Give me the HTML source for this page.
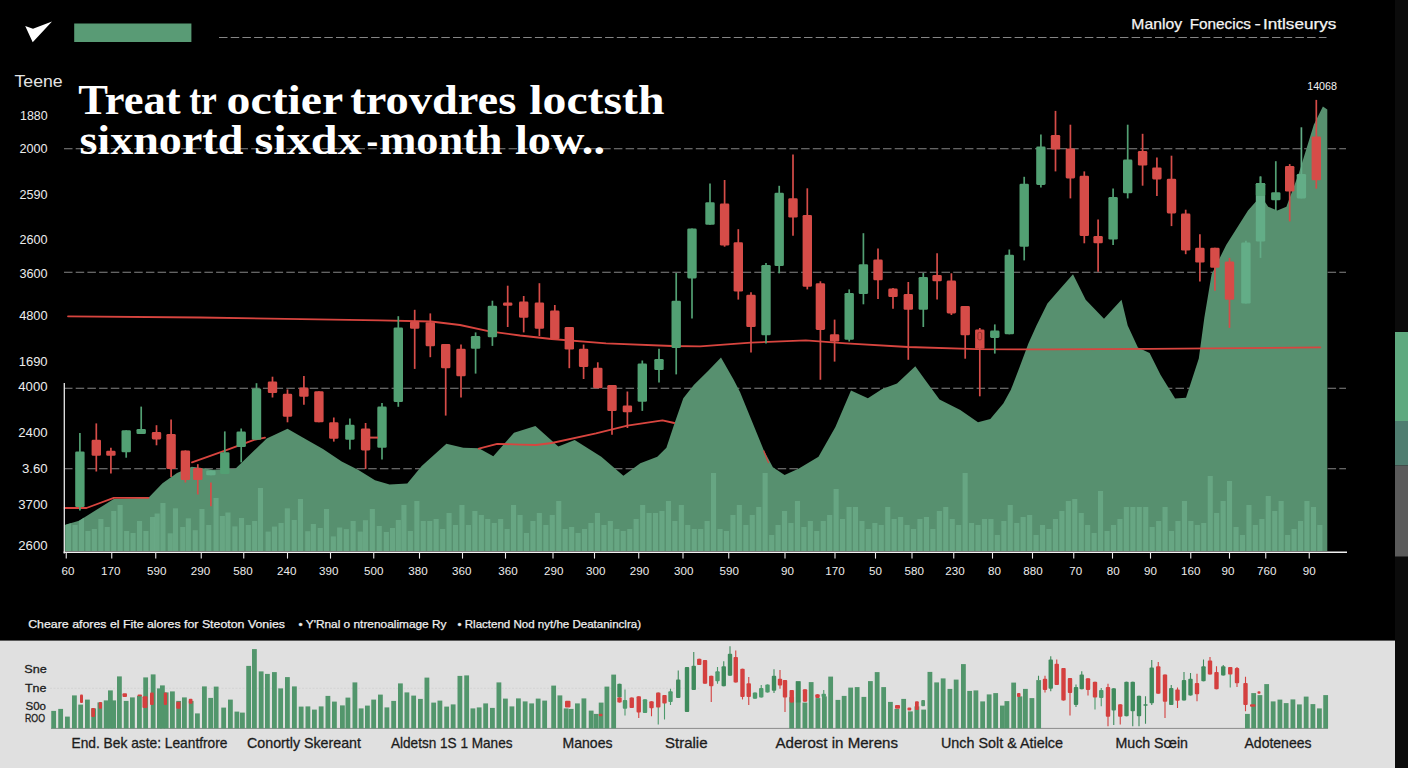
<!DOCTYPE html>
<html><head><meta charset="utf-8"><title>chart</title>
<style>
html,body{margin:0;padding:0;background:#000;}
body{width:1408px;height:768px;overflow:hidden;position:relative;font-family:"Liberation Sans",sans-serif;}
svg{position:absolute;left:0;top:0;display:block}
text{font-family:"Liberation Sans",sans-serif;}
.ser{font-family:"Liberation Serif",serif;font-weight:bold;}
</style></head><body>
<svg width="1408" height="768" viewBox="0 0 1408 768">
<rect width="1408" height="768" fill="#000"/>

<rect x="1395" y="0" width="13" height="768" fill="#0b0b0b"/>
<rect x="1395" y="332" width="13" height="89" fill="#5fa97f"/>
<rect x="1395" y="421" width="13" height="44.5" fill="#4f7d70"/>
<rect x="1395" y="465.5" width="13" height="91" fill="#5b5b5b"/>
<rect x="0" y="640.6" width="1395" height="127.4" fill="#e0e0e0"/>
<line x1="219" y1="37.5" x2="1326.5" y2="37.5" stroke="#858585" stroke-width="1.1" stroke-dasharray="8.5 3.2"/>
<line x1="64" y1="148.8" x2="1346" y2="148.8" stroke="#858585" stroke-width="1.1" stroke-dasharray="8.5 3.2"/>
<line x1="64" y1="272.3" x2="1346" y2="272.3" stroke="#858585" stroke-width="1.1" stroke-dasharray="8.5 3.2"/>
<line x1="64" y1="388.2" x2="1346" y2="388.2" stroke="#858585" stroke-width="1.1" stroke-dasharray="8.5 3.2"/>
<line x1="64" y1="468.8" x2="1346" y2="468.8" stroke="#858585" stroke-width="1.1" stroke-dasharray="8.5 3.2"/>
<polygon points="64.6,525.0 79.0,520.8 113.8,498.9 148.5,497.8 162.5,483.3 177.0,473.0 191.7,466.7 200.0,467.7 212.5,469.8 235.4,468.7 266.7,438.5 287.5,428.8 308.0,440.6 323.0,449.0 341.7,461.5 358.0,469.8 375.0,480.2 389.6,484.4 407.3,483.6 421.7,465.9 446.4,443.8 463.3,447.7 478.9,448.2 493.3,456.3 514.0,432.8 535.4,426.0 558.3,446.4 574.7,439.9 601.3,456.8 623.4,475.8 640.3,463.3 657.3,456.8 666.4,447.7 674.2,424.3 683.3,398.2 693.8,385.0 708.0,371.0 721.0,357.5 733.8,380.0 740.0,392.0 763.8,450.3 772.9,467.2 784.6,475.0 798.9,468.5 818.5,456.8 835.4,426.9 851.0,390.4 867.9,398.2 882.2,389.1 897.0,383.5 915.3,366.3 925.2,380.0 939.5,399.5 960.3,409.9 978.0,422.2 990.3,419.0 1003.3,403.4 1011.0,389.4 1020.0,366.0 1028.4,343.4 1036.5,325.5 1047.4,303.5 1060.0,289.0 1073.0,274.3 1085.7,299.8 1104.0,318.8 1121.5,299.8 1127.7,325.4 1137.9,347.4 1149.6,352.9 1160.5,374.8 1175.1,398.5 1186.0,397.8 1198.8,358.4 1204.3,318.0 1211.6,274.3 1226.2,245.0 1248.0,210.5 1260.9,195.9 1268.2,206.8 1277.3,210.5 1286.4,206.8 1299.2,172.2 1313.8,124.7 1322.9,106.5 1327.3,109.4 1327.3,551.0 64.6,551.0" fill="#57906f"/>
<clipPath id="ac"><polygon points="64.6,525.0 79.0,520.8 113.8,498.9 148.5,497.8 162.5,483.3 177.0,473.0 191.7,466.7 200.0,467.7 212.5,469.8 235.4,468.7 266.7,438.5 287.5,428.8 308.0,440.6 323.0,449.0 341.7,461.5 358.0,469.8 375.0,480.2 389.6,484.4 407.3,483.6 421.7,465.9 446.4,443.8 463.3,447.7 478.9,448.2 493.3,456.3 514.0,432.8 535.4,426.0 558.3,446.4 574.7,439.9 601.3,456.8 623.4,475.8 640.3,463.3 657.3,456.8 666.4,447.7 674.2,424.3 683.3,398.2 693.8,385.0 708.0,371.0 721.0,357.5 733.8,380.0 740.0,392.0 763.8,450.3 772.9,467.2 784.6,475.0 798.9,468.5 818.5,456.8 835.4,426.9 851.0,390.4 867.9,398.2 882.2,389.1 897.0,383.5 915.3,366.3 925.2,380.0 939.5,399.5 960.3,409.9 978.0,422.2 990.3,419.0 1003.3,403.4 1011.0,389.4 1020.0,366.0 1028.4,343.4 1036.5,325.5 1047.4,303.5 1060.0,289.0 1073.0,274.3 1085.7,299.8 1104.0,318.8 1121.5,299.8 1127.7,325.4 1137.9,347.4 1149.6,352.9 1160.5,374.8 1175.1,398.5 1186.0,397.8 1198.8,358.4 1204.3,318.0 1211.6,274.3 1226.2,245.0 1248.0,210.5 1260.9,195.9 1268.2,206.8 1277.3,210.5 1286.4,206.8 1299.2,172.2 1313.8,124.7 1322.9,106.5 1327.3,109.4 1327.3,551.0 64.6,551.0"/></clipPath><g clip-path="url(#ac)">
<rect x="66.0" y="513.0" width="5.1" height="38.0" fill="#6cae89" fill-opacity="0.75"/>
<rect x="72.5" y="525.0" width="5.1" height="26.0" fill="#6cae89" fill-opacity="0.75"/>
<rect x="78.9" y="507.0" width="5.1" height="44.0" fill="#6cae89" fill-opacity="0.75"/>
<rect x="85.4" y="531.0" width="5.1" height="20.0" fill="#6cae89" fill-opacity="0.75"/>
<rect x="91.8" y="529.0" width="5.1" height="22.0" fill="#6cae89" fill-opacity="0.75"/>
<rect x="98.3" y="519.0" width="5.1" height="32.0" fill="#6cae89" fill-opacity="0.75"/>
<rect x="104.7" y="527.0" width="5.1" height="24.0" fill="#6cae89" fill-opacity="0.75"/>
<rect x="111.2" y="511.0" width="5.1" height="40.0" fill="#6cae89" fill-opacity="0.75"/>
<rect x="117.6" y="505.0" width="5.1" height="46.0" fill="#6cae89" fill-opacity="0.75"/>
<rect x="124.1" y="531.0" width="5.1" height="20.0" fill="#6cae89" fill-opacity="0.75"/>
<rect x="130.5" y="533.0" width="5.1" height="18.0" fill="#6cae89" fill-opacity="0.75"/>
<rect x="137.0" y="521.0" width="5.1" height="30.0" fill="#6cae89" fill-opacity="0.75"/>
<rect x="143.4" y="531.0" width="5.1" height="20.0" fill="#6cae89" fill-opacity="0.75"/>
<rect x="401.4" y="505.0" width="5.1" height="46.0" fill="#6cae89" fill-opacity="0.75"/>
<rect x="407.8" y="531.0" width="5.1" height="20.0" fill="#6cae89" fill-opacity="0.75"/>
<rect x="414.3" y="501.0" width="5.1" height="50.0" fill="#6cae89" fill-opacity="0.75"/>
<rect x="420.7" y="521.0" width="5.1" height="30.0" fill="#6cae89" fill-opacity="0.75"/>
<rect x="427.2" y="521.0" width="5.1" height="30.0" fill="#6cae89" fill-opacity="0.75"/>
<rect x="433.6" y="519.0" width="5.1" height="32.0" fill="#6cae89" fill-opacity="0.75"/>
<rect x="440.1" y="529.0" width="5.1" height="22.0" fill="#6cae89" fill-opacity="0.75"/>
<rect x="446.5" y="513.0" width="5.1" height="38.0" fill="#6cae89" fill-opacity="0.75"/>
<rect x="453.0" y="525.0" width="5.1" height="26.0" fill="#6cae89" fill-opacity="0.75"/>
<rect x="459.4" y="505.0" width="5.1" height="46.0" fill="#6cae89" fill-opacity="0.75"/>
<rect x="465.9" y="525.0" width="5.1" height="26.0" fill="#6cae89" fill-opacity="0.75"/>
<rect x="472.3" y="511.0" width="5.1" height="40.0" fill="#6cae89" fill-opacity="0.75"/>
<rect x="478.8" y="515.0" width="5.1" height="36.0" fill="#6cae89" fill-opacity="0.75"/>
<rect x="485.2" y="519.0" width="5.1" height="32.0" fill="#6cae89" fill-opacity="0.75"/>
<rect x="491.7" y="523.0" width="5.1" height="28.0" fill="#6cae89" fill-opacity="0.75"/>
<rect x="498.1" y="519.0" width="5.1" height="32.0" fill="#6cae89" fill-opacity="0.75"/>
<rect x="504.6" y="529.0" width="5.1" height="22.0" fill="#6cae89" fill-opacity="0.75"/>
<rect x="511.0" y="505.0" width="5.1" height="46.0" fill="#6cae89" fill-opacity="0.75"/>
<rect x="517.5" y="515.0" width="5.1" height="36.0" fill="#6cae89" fill-opacity="0.75"/>
<rect x="523.9" y="533.0" width="5.1" height="18.0" fill="#6cae89" fill-opacity="0.75"/>
<rect x="530.4" y="521.0" width="5.1" height="30.0" fill="#6cae89" fill-opacity="0.75"/>
<rect x="536.8" y="513.0" width="5.1" height="38.0" fill="#6cae89" fill-opacity="0.75"/>
<rect x="543.3" y="525.0" width="5.1" height="26.0" fill="#6cae89" fill-opacity="0.75"/>
<rect x="549.7" y="515.0" width="5.1" height="36.0" fill="#6cae89" fill-opacity="0.75"/>
<rect x="556.2" y="501.0" width="5.1" height="50.0" fill="#6cae89" fill-opacity="0.75"/>
<rect x="562.6" y="529.0" width="5.1" height="22.0" fill="#6cae89" fill-opacity="0.75"/>
<rect x="569.1" y="527.0" width="5.1" height="24.0" fill="#6cae89" fill-opacity="0.75"/>
<rect x="575.5" y="533.0" width="5.1" height="18.0" fill="#6cae89" fill-opacity="0.75"/>
<rect x="582.0" y="529.0" width="5.1" height="22.0" fill="#6cae89" fill-opacity="0.75"/>
<rect x="588.4" y="523.0" width="5.1" height="28.0" fill="#6cae89" fill-opacity="0.75"/>
<rect x="594.9" y="513.0" width="5.1" height="38.0" fill="#6cae89" fill-opacity="0.75"/>
<rect x="601.4" y="525.0" width="5.1" height="26.0" fill="#6cae89" fill-opacity="0.75"/>
<rect x="607.8" y="521.0" width="5.1" height="30.0" fill="#6cae89" fill-opacity="0.75"/>
<rect x="614.3" y="529.0" width="5.1" height="22.0" fill="#6cae89" fill-opacity="0.75"/>
<rect x="620.7" y="531.0" width="5.1" height="20.0" fill="#6cae89" fill-opacity="0.75"/>
<rect x="627.2" y="529.0" width="5.1" height="22.0" fill="#6cae89" fill-opacity="0.75"/>
<rect x="633.6" y="519.0" width="5.1" height="32.0" fill="#6cae89" fill-opacity="0.75"/>
<rect x="640.1" y="505.0" width="5.1" height="46.0" fill="#6cae89" fill-opacity="0.75"/>
<rect x="646.5" y="513.0" width="5.1" height="38.0" fill="#6cae89" fill-opacity="0.75"/>
<rect x="653.0" y="513.0" width="5.1" height="38.0" fill="#6cae89" fill-opacity="0.75"/>
<rect x="659.4" y="511.0" width="5.1" height="40.0" fill="#6cae89" fill-opacity="0.75"/>
<rect x="665.9" y="501.0" width="5.1" height="50.0" fill="#6cae89" fill-opacity="0.75"/>
<rect x="672.3" y="521.0" width="5.1" height="30.0" fill="#6cae89" fill-opacity="0.75"/>
<rect x="678.8" y="505.0" width="5.1" height="46.0" fill="#6cae89" fill-opacity="0.75"/>
<rect x="685.2" y="525.0" width="5.1" height="26.0" fill="#6cae89" fill-opacity="0.75"/>
<rect x="691.7" y="529.0" width="5.1" height="22.0" fill="#6cae89" fill-opacity="0.75"/>
<rect x="698.1" y="529.0" width="5.1" height="22.0" fill="#6cae89" fill-opacity="0.75"/>
<rect x="704.6" y="521.0" width="5.1" height="30.0" fill="#6cae89" fill-opacity="0.75"/>
<rect x="711.0" y="473.0" width="5.1" height="78.0" fill="#6cae89" fill-opacity="0.75"/>
<rect x="717.5" y="529.0" width="5.1" height="22.0" fill="#6cae89" fill-opacity="0.75"/>
<rect x="723.9" y="531.0" width="5.1" height="20.0" fill="#6cae89" fill-opacity="0.75"/>
<rect x="730.4" y="515.0" width="5.1" height="36.0" fill="#6cae89" fill-opacity="0.75"/>
<rect x="736.8" y="505.0" width="5.1" height="46.0" fill="#6cae89" fill-opacity="0.75"/>
<rect x="743.3" y="525.0" width="5.1" height="26.0" fill="#6cae89" fill-opacity="0.75"/>
<rect x="749.7" y="515.0" width="5.1" height="36.0" fill="#6cae89" fill-opacity="0.75"/>
<rect x="756.2" y="507.0" width="5.1" height="44.0" fill="#6cae89" fill-opacity="0.75"/>
<rect x="762.6" y="473.0" width="5.1" height="78.0" fill="#6cae89" fill-opacity="0.75"/>
<rect x="769.1" y="535.0" width="5.1" height="16.0" fill="#6cae89" fill-opacity="0.75"/>
<rect x="775.5" y="525.0" width="5.1" height="26.0" fill="#6cae89" fill-opacity="0.75"/>
<rect x="782.0" y="511.0" width="5.1" height="40.0" fill="#6cae89" fill-opacity="0.75"/>
<rect x="788.4" y="523.0" width="5.1" height="28.0" fill="#6cae89" fill-opacity="0.75"/>
<rect x="794.9" y="501.0" width="5.1" height="50.0" fill="#6cae89" fill-opacity="0.75"/>
<rect x="801.3" y="527.0" width="5.1" height="24.0" fill="#6cae89" fill-opacity="0.75"/>
<rect x="807.8" y="521.0" width="5.1" height="30.0" fill="#6cae89" fill-opacity="0.75"/>
<rect x="814.2" y="531.0" width="5.1" height="20.0" fill="#6cae89" fill-opacity="0.75"/>
<rect x="820.7" y="521.0" width="5.1" height="30.0" fill="#6cae89" fill-opacity="0.75"/>
<rect x="827.1" y="515.0" width="5.1" height="36.0" fill="#6cae89" fill-opacity="0.75"/>
<rect x="833.6" y="489.0" width="5.1" height="62.0" fill="#6cae89" fill-opacity="0.75"/>
<rect x="840.0" y="519.0" width="5.1" height="32.0" fill="#6cae89" fill-opacity="0.75"/>
<rect x="846.5" y="507.0" width="5.1" height="44.0" fill="#6cae89" fill-opacity="0.75"/>
<rect x="852.9" y="507.0" width="5.1" height="44.0" fill="#6cae89" fill-opacity="0.75"/>
<rect x="859.4" y="521.0" width="5.1" height="30.0" fill="#6cae89" fill-opacity="0.75"/>
<rect x="865.8" y="529.0" width="5.1" height="22.0" fill="#6cae89" fill-opacity="0.75"/>
<rect x="872.3" y="523.0" width="5.1" height="28.0" fill="#6cae89" fill-opacity="0.75"/>
<rect x="878.7" y="525.0" width="5.1" height="26.0" fill="#6cae89" fill-opacity="0.75"/>
<rect x="885.2" y="507.0" width="5.1" height="44.0" fill="#6cae89" fill-opacity="0.75"/>
<rect x="891.6" y="519.0" width="5.1" height="32.0" fill="#6cae89" fill-opacity="0.75"/>
<rect x="898.1" y="517.0" width="5.1" height="34.0" fill="#6cae89" fill-opacity="0.75"/>
<rect x="904.5" y="525.0" width="5.1" height="26.0" fill="#6cae89" fill-opacity="0.75"/>
<rect x="911.0" y="529.0" width="5.1" height="22.0" fill="#6cae89" fill-opacity="0.75"/>
<rect x="917.4" y="519.0" width="5.1" height="32.0" fill="#6cae89" fill-opacity="0.75"/>
<rect x="923.9" y="517.0" width="5.1" height="34.0" fill="#6cae89" fill-opacity="0.75"/>
<rect x="930.3" y="529.0" width="5.1" height="22.0" fill="#6cae89" fill-opacity="0.75"/>
<rect x="936.8" y="511.0" width="5.1" height="40.0" fill="#6cae89" fill-opacity="0.75"/>
<rect x="943.2" y="507.0" width="5.1" height="44.0" fill="#6cae89" fill-opacity="0.75"/>
<rect x="949.7" y="519.0" width="5.1" height="32.0" fill="#6cae89" fill-opacity="0.75"/>
<rect x="956.1" y="525.0" width="5.1" height="26.0" fill="#6cae89" fill-opacity="0.75"/>
<rect x="962.6" y="473.0" width="5.1" height="78.0" fill="#6cae89" fill-opacity="0.75"/>
<rect x="969.0" y="523.0" width="5.1" height="28.0" fill="#6cae89" fill-opacity="0.75"/>
<rect x="975.5" y="525.0" width="5.1" height="26.0" fill="#6cae89" fill-opacity="0.75"/>
<rect x="981.9" y="519.0" width="5.1" height="32.0" fill="#6cae89" fill-opacity="0.75"/>
<rect x="988.4" y="519.0" width="5.1" height="32.0" fill="#6cae89" fill-opacity="0.75"/>
<rect x="994.8" y="535.0" width="5.1" height="16.0" fill="#6cae89" fill-opacity="0.75"/>
<rect x="1001.3" y="521.0" width="5.1" height="30.0" fill="#6cae89" fill-opacity="0.75"/>
<rect x="1007.7" y="505.0" width="5.1" height="46.0" fill="#6cae89" fill-opacity="0.75"/>
<rect x="1014.2" y="523.0" width="5.1" height="28.0" fill="#6cae89" fill-opacity="0.75"/>
<rect x="1020.6" y="517.0" width="5.1" height="34.0" fill="#6cae89" fill-opacity="0.75"/>
<rect x="1027.1" y="515.0" width="5.1" height="36.0" fill="#6cae89" fill-opacity="0.75"/>
<rect x="1033.5" y="535.0" width="5.1" height="16.0" fill="#6cae89" fill-opacity="0.75"/>
<rect x="1040.0" y="525.0" width="5.1" height="26.0" fill="#6cae89" fill-opacity="0.75"/>
<rect x="1046.4" y="529.0" width="5.1" height="22.0" fill="#6cae89" fill-opacity="0.75"/>
<rect x="1052.9" y="519.0" width="5.1" height="32.0" fill="#6cae89" fill-opacity="0.75"/>
<rect x="1059.3" y="511.0" width="5.1" height="40.0" fill="#6cae89" fill-opacity="0.75"/>
<rect x="1065.8" y="501.0" width="5.1" height="50.0" fill="#6cae89" fill-opacity="0.75"/>
<rect x="1072.2" y="499.0" width="5.1" height="52.0" fill="#6cae89" fill-opacity="0.75"/>
<rect x="1078.7" y="513.0" width="5.1" height="38.0" fill="#6cae89" fill-opacity="0.75"/>
<rect x="1085.1" y="525.0" width="5.1" height="26.0" fill="#6cae89" fill-opacity="0.75"/>
<rect x="1091.6" y="533.0" width="5.1" height="18.0" fill="#6cae89" fill-opacity="0.75"/>
<rect x="1098.0" y="491.0" width="5.1" height="60.0" fill="#6cae89" fill-opacity="0.75"/>
<rect x="1104.5" y="531.0" width="5.1" height="20.0" fill="#6cae89" fill-opacity="0.75"/>
<rect x="1110.9" y="525.0" width="5.1" height="26.0" fill="#6cae89" fill-opacity="0.75"/>
<rect x="1117.4" y="519.0" width="5.1" height="32.0" fill="#6cae89" fill-opacity="0.75"/>
<rect x="1123.8" y="507.0" width="5.1" height="44.0" fill="#6cae89" fill-opacity="0.75"/>
<rect x="1130.3" y="507.0" width="5.1" height="44.0" fill="#6cae89" fill-opacity="0.75"/>
<rect x="1136.7" y="507.0" width="5.1" height="44.0" fill="#6cae89" fill-opacity="0.75"/>
<rect x="1143.2" y="507.0" width="5.1" height="44.0" fill="#6cae89" fill-opacity="0.75"/>
<rect x="1149.6" y="527.0" width="5.1" height="24.0" fill="#6cae89" fill-opacity="0.75"/>
<rect x="1156.1" y="521.0" width="5.1" height="30.0" fill="#6cae89" fill-opacity="0.75"/>
<rect x="1162.5" y="507.0" width="5.1" height="44.0" fill="#6cae89" fill-opacity="0.75"/>
<rect x="1169.0" y="531.0" width="5.1" height="20.0" fill="#6cae89" fill-opacity="0.75"/>
<rect x="1175.4" y="521.0" width="5.1" height="30.0" fill="#6cae89" fill-opacity="0.75"/>
<rect x="1181.9" y="501.0" width="5.1" height="50.0" fill="#6cae89" fill-opacity="0.75"/>
<rect x="1188.3" y="521.0" width="5.1" height="30.0" fill="#6cae89" fill-opacity="0.75"/>
<rect x="1194.8" y="525.0" width="5.1" height="26.0" fill="#6cae89" fill-opacity="0.75"/>
<rect x="1201.2" y="523.0" width="5.1" height="28.0" fill="#6cae89" fill-opacity="0.75"/>
<rect x="1207.7" y="476.0" width="5.1" height="75.0" fill="#6cae89" fill-opacity="0.75"/>
<rect x="1214.1" y="513.0" width="5.1" height="38.0" fill="#6cae89" fill-opacity="0.75"/>
<rect x="1220.6" y="501.0" width="5.1" height="50.0" fill="#6cae89" fill-opacity="0.75"/>
<rect x="1227.0" y="481.0" width="5.1" height="70.0" fill="#6cae89" fill-opacity="0.75"/>
<rect x="1233.5" y="527.0" width="5.1" height="24.0" fill="#6cae89" fill-opacity="0.75"/>
<rect x="1239.9" y="535.0" width="5.1" height="16.0" fill="#6cae89" fill-opacity="0.75"/>
<rect x="1246.4" y="505.0" width="5.1" height="46.0" fill="#6cae89" fill-opacity="0.75"/>
<rect x="1252.8" y="525.0" width="5.1" height="26.0" fill="#6cae89" fill-opacity="0.75"/>
<rect x="1259.3" y="519.0" width="5.1" height="32.0" fill="#6cae89" fill-opacity="0.75"/>
<rect x="1265.7" y="496.0" width="5.1" height="55.0" fill="#6cae89" fill-opacity="0.75"/>
<rect x="1272.2" y="511.0" width="5.1" height="40.0" fill="#6cae89" fill-opacity="0.75"/>
<rect x="1278.6" y="501.0" width="5.1" height="50.0" fill="#6cae89" fill-opacity="0.75"/>
<rect x="1285.1" y="535.0" width="5.1" height="16.0" fill="#6cae89" fill-opacity="0.75"/>
<rect x="1291.5" y="529.0" width="5.1" height="22.0" fill="#6cae89" fill-opacity="0.75"/>
<rect x="1298.0" y="521.0" width="5.1" height="30.0" fill="#6cae89" fill-opacity="0.75"/>
<rect x="1304.4" y="501.0" width="5.1" height="50.0" fill="#6cae89" fill-opacity="0.75"/>
<rect x="1310.9" y="507.0" width="5.1" height="44.0" fill="#6cae89" fill-opacity="0.75"/>
<rect x="1317.3" y="525.0" width="5.1" height="26.0" fill="#6cae89" fill-opacity="0.75"/>
<rect x="150.0" y="517.0" width="5.1" height="34.0" fill="#6cae89" fill-opacity="0.75"/>
<rect x="154.6" y="513.5" width="5.1" height="37.5" fill="#6cae89" fill-opacity="0.75"/>
<rect x="160.4" y="503.0" width="5.1" height="48.0" fill="#6cae89" fill-opacity="0.75"/>
<rect x="167.7" y="533.3" width="5.1" height="17.7" fill="#6cae89" fill-opacity="0.75"/>
<rect x="172.9" y="508.3" width="5.1" height="42.7" fill="#6cae89" fill-opacity="0.75"/>
<rect x="180.2" y="527.0" width="5.1" height="24.0" fill="#6cae89" fill-opacity="0.75"/>
<rect x="185.8" y="518.3" width="5.1" height="32.7" fill="#6cae89" fill-opacity="0.75"/>
<rect x="192.7" y="530.2" width="5.1" height="20.8" fill="#6cae89" fill-opacity="0.75"/>
<rect x="199.4" y="509.0" width="5.1" height="42.0" fill="#6cae89" fill-opacity="0.75"/>
<rect x="206.2" y="525.0" width="5.1" height="26.0" fill="#6cae89" fill-opacity="0.75"/>
<rect x="213.5" y="498.0" width="5.1" height="53.0" fill="#6cae89" fill-opacity="0.75"/>
<rect x="219.8" y="516.0" width="5.1" height="35.0" fill="#6cae89" fill-opacity="0.75"/>
<rect x="225.4" y="512.5" width="5.1" height="38.5" fill="#6cae89" fill-opacity="0.75"/>
<rect x="232.3" y="526.4" width="5.1" height="24.6" fill="#6cae89" fill-opacity="0.75"/>
<rect x="239.0" y="518.0" width="5.1" height="33.0" fill="#6cae89" fill-opacity="0.75"/>
<rect x="245.8" y="525.0" width="5.1" height="26.0" fill="#6cae89" fill-opacity="0.75"/>
<rect x="252.1" y="521.0" width="5.1" height="30.0" fill="#6cae89" fill-opacity="0.75"/>
<rect x="257.9" y="488.0" width="5.1" height="63.0" fill="#6cae89" fill-opacity="0.75"/>
<rect x="265.6" y="531.6" width="5.1" height="19.4" fill="#6cae89" fill-opacity="0.75"/>
<rect x="271.9" y="526.6" width="5.1" height="24.4" fill="#6cae89" fill-opacity="0.75"/>
<rect x="278.5" y="523.0" width="5.1" height="28.0" fill="#6cae89" fill-opacity="0.75"/>
<rect x="284.8" y="508.3" width="5.1" height="42.7" fill="#6cae89" fill-opacity="0.75"/>
<rect x="291.7" y="520.0" width="5.1" height="31.0" fill="#6cae89" fill-opacity="0.75"/>
<rect x="297.9" y="499.0" width="5.1" height="52.0" fill="#6cae89" fill-opacity="0.75"/>
<rect x="305.2" y="531.2" width="5.1" height="19.8" fill="#6cae89" fill-opacity="0.75"/>
<rect x="310.8" y="524.0" width="5.1" height="27.0" fill="#6cae89" fill-opacity="0.75"/>
<rect x="317.7" y="528.0" width="5.1" height="23.0" fill="#6cae89" fill-opacity="0.75"/>
<rect x="324.0" y="509.0" width="5.1" height="42.0" fill="#6cae89" fill-opacity="0.75"/>
<rect x="330.8" y="536.4" width="5.1" height="14.6" fill="#6cae89" fill-opacity="0.75"/>
<rect x="337.1" y="527.5" width="5.1" height="23.5" fill="#6cae89" fill-opacity="0.75"/>
<rect x="343.8" y="529.1" width="5.1" height="21.9" fill="#6cae89" fill-opacity="0.75"/>
<rect x="350.6" y="521.0" width="5.1" height="30.0" fill="#6cae89" fill-opacity="0.75"/>
<rect x="357.7" y="531.6" width="5.1" height="19.4" fill="#6cae89" fill-opacity="0.75"/>
<rect x="362.9" y="520.2" width="5.1" height="30.8" fill="#6cae89" fill-opacity="0.75"/>
<rect x="369.8" y="509.0" width="5.1" height="42.0" fill="#6cae89" fill-opacity="0.75"/>
<rect x="376.7" y="526.0" width="5.1" height="25.0" fill="#6cae89" fill-opacity="0.75"/>
<rect x="383.8" y="532.0" width="5.1" height="19.0" fill="#6cae89" fill-opacity="0.75"/>
<rect x="390.0" y="528.0" width="5.1" height="23.0" fill="#6cae89" fill-opacity="0.75"/>
<rect x="395.8" y="520.0" width="5.1" height="31.0" fill="#6cae89" fill-opacity="0.75"/>
</g>
<polyline points="64.6,508 86.5,508 113.8,497.8 148.5,497.8" fill="none" stroke="#d8453f" stroke-width="1.8" stroke-linejoin="round" stroke-linecap="round"/>
<polyline points="192,462.4 225,450.7 254,439.8 265,437.6" fill="none" stroke="#d8453f" stroke-width="1.8" stroke-linejoin="round" stroke-linecap="round"/>
<polyline points="478.9,448.7 497.2,443.8 520,444.6 536,445 551.8,443 596,433.4 627.3,425.6 662.5,420.4 674.2,423" fill="none" stroke="#d8453f" stroke-width="1.8" stroke-linejoin="round" stroke-linecap="round"/>
<polyline points="763.6,450.5 768.6,463" fill="none" stroke="#d8453f" stroke-width="1.2"/>
<polyline points="68,316.3 200,317.5 380,320.4 431,321.5 460,325 489.5,331.3 520,335.5 551.5,339 606,343.4 672,346 700,346.3 751,342.6 805.8,340.4 846,343.4 908,347 977,349.2 1052,349.4 1150,348.8 1320.3,347.4" fill="none" stroke="#d8453f" stroke-width="1.8" stroke-linejoin="round" stroke-linecap="round"/>
<line x1="79.9" y1="433.0" x2="79.9" y2="510.5" stroke="#52a073" stroke-width="1.7"/>
<rect x="75.2" y="451.5" width="9.4" height="55.5" fill="#52a073" rx="1.3"/>
<line x1="96.3" y1="423.4" x2="96.3" y2="471.5" stroke="#d64c48" stroke-width="1.7"/>
<rect x="91.6" y="439.8" width="9.4" height="16.0" fill="#d64c48" rx="1.3"/>
<line x1="110.9" y1="447.8" x2="110.9" y2="473.4" stroke="#d64c48" stroke-width="1.7"/>
<rect x="106.2" y="450.7" width="9.4" height="5.1" fill="#d64c48" rx="1.3"/>
<line x1="126.2" y1="430.3" x2="126.2" y2="457.7" stroke="#52a073" stroke-width="1.7"/>
<rect x="121.5" y="430.3" width="9.4" height="21.9" fill="#52a073" rx="1.3"/>
<line x1="141.2" y1="406.6" x2="141.2" y2="434.0" stroke="#52a073" stroke-width="1.7"/>
<rect x="136.5" y="428.9" width="9.4" height="5.1" fill="#52a073" rx="1.3"/>
<line x1="156.5" y1="425.2" x2="156.5" y2="445.3" stroke="#d64c48" stroke-width="1.7"/>
<rect x="151.8" y="432.1" width="9.4" height="7.3" fill="#d64c48" rx="1.3"/>
<line x1="171.1" y1="419.4" x2="171.1" y2="477.0" stroke="#d64c48" stroke-width="1.7"/>
<rect x="166.4" y="434.0" width="9.4" height="35.0" fill="#d64c48" rx="1.3"/>
<line x1="185.4" y1="450.4" x2="185.4" y2="482.5" stroke="#d64c48" stroke-width="1.7"/>
<rect x="180.7" y="450.4" width="9.4" height="29.6" fill="#d64c48" rx="1.3"/>
<line x1="197.8" y1="464.2" x2="197.8" y2="494.5" stroke="#d64c48" stroke-width="1.7"/>
<rect x="193.1" y="467.9" width="9.4" height="12.1" fill="#d64c48" rx="1.3"/>
<line x1="210.9" y1="482.5" x2="210.9" y2="506.2" stroke="#d64c48" stroke-width="1.7"/>
<line x1="210.9" y1="470.4" x2="210.9" y2="475.2" stroke="#63ad87" stroke-width="1.7"/>
<rect x="206.2" y="470.4" width="9.4" height="4.8" fill="#63ad87" rx="1.3"/>
<line x1="224.8" y1="431.4" x2="224.8" y2="474.1" stroke="#52a073" stroke-width="1.7"/>
<rect x="220.1" y="452.2" width="9.4" height="21.9" fill="#52a073" rx="1.3"/>
<line x1="241.2" y1="428.5" x2="241.2" y2="462.4" stroke="#52a073" stroke-width="1.7"/>
<rect x="236.5" y="431.4" width="9.4" height="15.7" fill="#52a073" rx="1.3"/>
<line x1="256.5" y1="383.2" x2="256.5" y2="439.8" stroke="#52a073" stroke-width="1.7"/>
<rect x="251.8" y="388.4" width="9.4" height="51.4" fill="#52a073" rx="1.3"/>
<line x1="272.5" y1="376.7" x2="272.5" y2="397.5" stroke="#d64c48" stroke-width="1.7"/>
<rect x="267.8" y="381.4" width="9.4" height="11.7" fill="#d64c48" rx="1.3"/>
<line x1="287.5" y1="389.4" x2="287.5" y2="422.3" stroke="#d64c48" stroke-width="1.7"/>
<rect x="282.8" y="393.8" width="9.4" height="23.0" fill="#d64c48" rx="1.3"/>
<line x1="303.9" y1="376.0" x2="303.9" y2="404.8" stroke="#d64c48" stroke-width="1.7"/>
<rect x="299.2" y="387.6" width="9.4" height="9.1" fill="#d64c48" rx="1.3"/>
<line x1="318.9" y1="391.3" x2="318.9" y2="422.3" stroke="#d64c48" stroke-width="1.7"/>
<rect x="314.2" y="391.3" width="9.4" height="31.0" fill="#d64c48" rx="1.3"/>
<line x1="333.8" y1="417.5" x2="333.8" y2="441.6" stroke="#d64c48" stroke-width="1.7"/>
<rect x="329.1" y="422.3" width="9.4" height="16.4" fill="#d64c48" rx="1.3"/>
<line x1="349.9" y1="418.6" x2="349.9" y2="449.6" stroke="#52a073" stroke-width="1.7"/>
<rect x="345.2" y="424.8" width="9.4" height="15.0" fill="#52a073" rx="1.3"/>
<line x1="365.6" y1="423.0" x2="365.6" y2="469.0" stroke="#d64c48" stroke-width="1.7"/>
<rect x="360.9" y="428.5" width="9.4" height="21.9" fill="#d64c48" rx="1.3"/>
<line x1="382.0" y1="403.0" x2="382.0" y2="459.5" stroke="#52a073" stroke-width="1.7"/>
<rect x="377.3" y="406.6" width="9.4" height="41.2" fill="#52a073" rx="1.3"/>
<line x1="398.3" y1="316.2" x2="398.3" y2="406.8" stroke="#52a073" stroke-width="1.7"/>
<rect x="393.6" y="327.5" width="9.4" height="74.5" fill="#52a073" rx="1.3"/>
<line x1="414.7" y1="309.8" x2="414.7" y2="368.9" stroke="#d64c48" stroke-width="1.7"/>
<rect x="410.0" y="321.5" width="9.4" height="7.3" fill="#d64c48" rx="1.3"/>
<line x1="430.3" y1="313.4" x2="430.3" y2="357.2" stroke="#d64c48" stroke-width="1.7"/>
<rect x="425.6" y="322.2" width="9.4" height="24.1" fill="#d64c48" rx="1.3"/>
<line x1="445.7" y1="344.1" x2="445.7" y2="415.6" stroke="#d64c48" stroke-width="1.7"/>
<rect x="441.0" y="344.1" width="9.4" height="24.1" fill="#d64c48" rx="1.3"/>
<line x1="461.0" y1="344.5" x2="461.0" y2="397.4" stroke="#d64c48" stroke-width="1.7"/>
<rect x="456.3" y="348.8" width="9.4" height="27.4" fill="#d64c48" rx="1.3"/>
<line x1="475.6" y1="332.4" x2="475.6" y2="373.6" stroke="#52a073" stroke-width="1.7"/>
<rect x="470.9" y="336.0" width="9.4" height="12.8" fill="#52a073" rx="1.3"/>
<line x1="492.4" y1="300.7" x2="492.4" y2="345.9" stroke="#52a073" stroke-width="1.7"/>
<rect x="487.7" y="305.8" width="9.4" height="31.4" fill="#52a073" rx="1.3"/>
<line x1="507.7" y1="285.7" x2="507.7" y2="327.0" stroke="#d64c48" stroke-width="1.7"/>
<rect x="503.0" y="302.5" width="9.4" height="3.3" fill="#d64c48" rx="1.3"/>
<line x1="523.7" y1="296.0" x2="523.7" y2="332.4" stroke="#d64c48" stroke-width="1.7"/>
<rect x="519.0" y="301.4" width="9.4" height="16.4" fill="#d64c48" rx="1.3"/>
<line x1="539.4" y1="283.2" x2="539.4" y2="336.0" stroke="#d64c48" stroke-width="1.7"/>
<rect x="534.7" y="302.5" width="9.4" height="26.3" fill="#d64c48" rx="1.3"/>
<line x1="554.8" y1="305.0" x2="554.8" y2="339.0" stroke="#d64c48" stroke-width="1.7"/>
<rect x="550.1" y="310.5" width="9.4" height="28.5" fill="#d64c48" rx="1.3"/>
<line x1="569.3" y1="327.0" x2="569.3" y2="368.2" stroke="#d64c48" stroke-width="1.7"/>
<rect x="564.6" y="327.0" width="9.4" height="22.6" fill="#d64c48" rx="1.3"/>
<line x1="583.6" y1="344.5" x2="583.6" y2="379.0" stroke="#d64c48" stroke-width="1.7"/>
<rect x="578.9" y="348.8" width="9.4" height="18.2" fill="#d64c48" rx="1.3"/>
<line x1="597.8" y1="362.3" x2="597.8" y2="388.2" stroke="#d64c48" stroke-width="1.7"/>
<rect x="593.1" y="367.8" width="9.4" height="20.4" fill="#d64c48" rx="1.3"/>
<line x1="612.0" y1="385.0" x2="612.0" y2="434.7" stroke="#d64c48" stroke-width="1.7"/>
<rect x="607.3" y="385.0" width="9.4" height="26.0" fill="#d64c48" rx="1.3"/>
<line x1="627.4" y1="391.5" x2="627.4" y2="428.0" stroke="#d64c48" stroke-width="1.7"/>
<rect x="622.7" y="405.5" width="9.4" height="6.8" fill="#d64c48" rx="1.3"/>
<line x1="642.3" y1="360.5" x2="642.3" y2="410.9" stroke="#52a073" stroke-width="1.7"/>
<rect x="637.6" y="363.4" width="9.4" height="38.3" fill="#52a073" rx="1.3"/>
<line x1="659.0" y1="348.8" x2="659.0" y2="382.4" stroke="#52a073" stroke-width="1.7"/>
<rect x="654.3" y="359.0" width="9.4" height="11.0" fill="#52a073" rx="1.3"/>
<line x1="676.2" y1="273.0" x2="676.2" y2="374.4" stroke="#52a073" stroke-width="1.7"/>
<rect x="671.5" y="300.7" width="9.4" height="47.3" fill="#52a073" rx="1.3"/>
<line x1="692.0" y1="228.4" x2="692.0" y2="318.5" stroke="#52a073" stroke-width="1.7"/>
<rect x="687.3" y="228.4" width="9.4" height="50.0" fill="#52a073" rx="1.3"/>
<line x1="710.0" y1="183.6" x2="710.0" y2="224.8" stroke="#52a073" stroke-width="1.7"/>
<rect x="705.3" y="202.2" width="9.4" height="22.6" fill="#52a073" rx="1.3"/>
<line x1="724.6" y1="180.0" x2="724.6" y2="246.7" stroke="#d64c48" stroke-width="1.7"/>
<rect x="719.9" y="203.6" width="9.4" height="42.0" fill="#d64c48" rx="1.3"/>
<line x1="738.3" y1="229.2" x2="738.3" y2="299.6" stroke="#d64c48" stroke-width="1.7"/>
<rect x="733.6" y="242.3" width="9.4" height="49.3" fill="#d64c48" rx="1.3"/>
<line x1="751.0" y1="292.3" x2="751.0" y2="352.5" stroke="#d64c48" stroke-width="1.7"/>
<rect x="746.3" y="294.8" width="9.4" height="32.2" fill="#d64c48" rx="1.3"/>
<line x1="766.0" y1="263.0" x2="766.0" y2="343.4" stroke="#52a073" stroke-width="1.7"/>
<rect x="761.3" y="265.0" width="9.4" height="70.3" fill="#52a073" rx="1.3"/>
<line x1="779.2" y1="185.8" x2="779.2" y2="273.3" stroke="#52a073" stroke-width="1.7"/>
<rect x="774.5" y="192.7" width="9.4" height="73.3" fill="#52a073" rx="1.3"/>
<line x1="793.0" y1="154.4" x2="793.0" y2="235.7" stroke="#d64c48" stroke-width="1.7"/>
<rect x="788.3" y="198.2" width="9.4" height="19.3" fill="#d64c48" rx="1.3"/>
<line x1="807.3" y1="188.3" x2="807.3" y2="289.4" stroke="#d64c48" stroke-width="1.7"/>
<rect x="802.6" y="215.0" width="9.4" height="71.8" fill="#d64c48" rx="1.3"/>
<line x1="820.4" y1="281.3" x2="820.4" y2="379.8" stroke="#d64c48" stroke-width="1.7"/>
<rect x="815.7" y="283.2" width="9.4" height="46.7" fill="#d64c48" rx="1.3"/>
<line x1="834.6" y1="319.6" x2="834.6" y2="361.6" stroke="#d64c48" stroke-width="1.7"/>
<rect x="829.9" y="334.2" width="9.4" height="7.3" fill="#d64c48" rx="1.3"/>
<line x1="849.2" y1="289.4" x2="849.2" y2="341.5" stroke="#52a073" stroke-width="1.7"/>
<rect x="844.5" y="293.0" width="9.4" height="46.7" fill="#52a073" rx="1.3"/>
<line x1="863.4" y1="233.2" x2="863.4" y2="304.3" stroke="#52a073" stroke-width="1.7"/>
<rect x="858.7" y="264.2" width="9.4" height="29.9" fill="#52a073" rx="1.3"/>
<line x1="878.0" y1="248.5" x2="878.0" y2="298.9" stroke="#d64c48" stroke-width="1.7"/>
<rect x="873.3" y="259.4" width="9.4" height="20.8" fill="#d64c48" rx="1.3"/>
<line x1="893.0" y1="288.0" x2="893.0" y2="308.7" stroke="#d64c48" stroke-width="1.7"/>
<rect x="888.3" y="288.6" width="9.4" height="8.4" fill="#d64c48" rx="1.3"/>
<line x1="908.3" y1="282.0" x2="908.3" y2="359.8" stroke="#d64c48" stroke-width="1.7"/>
<rect x="903.6" y="294.1" width="9.4" height="15.7" fill="#d64c48" rx="1.3"/>
<line x1="923.3" y1="273.0" x2="923.3" y2="327.0" stroke="#52a073" stroke-width="1.7"/>
<rect x="918.6" y="277.0" width="9.4" height="32.8" fill="#52a073" rx="1.3"/>
<line x1="937.1" y1="253.2" x2="937.1" y2="299.6" stroke="#d64c48" stroke-width="1.7"/>
<rect x="932.4" y="275.1" width="9.4" height="6.2" fill="#d64c48" rx="1.3"/>
<line x1="951.4" y1="273.3" x2="951.4" y2="315.0" stroke="#d64c48" stroke-width="1.7"/>
<rect x="946.7" y="280.6" width="9.4" height="32.8" fill="#d64c48" rx="1.3"/>
<line x1="965.2" y1="306.1" x2="965.2" y2="358.7" stroke="#d64c48" stroke-width="1.7"/>
<rect x="960.5" y="306.1" width="9.4" height="29.2" fill="#d64c48" rx="1.3"/>
<line x1="979.8" y1="328.0" x2="979.8" y2="396.3" stroke="#d64c48" stroke-width="1.7"/>
<rect x="975.1" y="329.5" width="9.4" height="19.3" fill="#d64c48" rx="1.3"/>
<line x1="994.8" y1="324.4" x2="994.8" y2="353.6" stroke="#52a073" stroke-width="1.7"/>
<rect x="990.1" y="330.6" width="9.4" height="7.3" fill="#52a073" rx="1.3"/>
<line x1="1009.3" y1="249.5" x2="1009.3" y2="334.3" stroke="#52a073" stroke-width="1.7"/>
<rect x="1004.6" y="254.8" width="9.4" height="79.5" fill="#52a073" rx="1.3"/>
<line x1="1024.2" y1="176.8" x2="1024.2" y2="260.4" stroke="#52a073" stroke-width="1.7"/>
<rect x="1019.5" y="183.7" width="9.4" height="63.1" fill="#52a073" rx="1.3"/>
<line x1="1040.9" y1="134.6" x2="1040.9" y2="187.5" stroke="#52a073" stroke-width="1.7"/>
<rect x="1036.2" y="146.6" width="9.4" height="38.3" fill="#52a073" rx="1.3"/>
<line x1="1055.5" y1="110.9" x2="1055.5" y2="171.4" stroke="#d64c48" stroke-width="1.7"/>
<rect x="1050.8" y="135.0" width="9.4" height="14.5" fill="#d64c48" rx="1.3"/>
<line x1="1070.4" y1="124.7" x2="1070.4" y2="198.4" stroke="#d64c48" stroke-width="1.7"/>
<rect x="1065.7" y="148.4" width="9.4" height="30.0" fill="#d64c48" rx="1.3"/>
<line x1="1084.3" y1="171.4" x2="1084.3" y2="243.3" stroke="#d64c48" stroke-width="1.7"/>
<rect x="1079.6" y="175.8" width="9.4" height="60.2" fill="#d64c48" rx="1.3"/>
<line x1="1098.1" y1="219.6" x2="1098.1" y2="271.8" stroke="#d64c48" stroke-width="1.7"/>
<rect x="1093.4" y="236.0" width="9.4" height="7.3" fill="#d64c48" rx="1.3"/>
<line x1="1113.1" y1="188.6" x2="1113.1" y2="245.1" stroke="#52a073" stroke-width="1.7"/>
<rect x="1108.4" y="197.0" width="9.4" height="42.6" fill="#52a073" rx="1.3"/>
<line x1="1127.7" y1="124.7" x2="1127.7" y2="198.4" stroke="#52a073" stroke-width="1.7"/>
<rect x="1123.0" y="159.4" width="9.4" height="33.9" fill="#52a073" rx="1.3"/>
<line x1="1142.6" y1="133.8" x2="1142.6" y2="185.7" stroke="#d64c48" stroke-width="1.7"/>
<rect x="1137.9" y="151.0" width="9.4" height="14.6" fill="#d64c48" rx="1.3"/>
<line x1="1156.9" y1="157.6" x2="1156.9" y2="195.9" stroke="#d64c48" stroke-width="1.7"/>
<rect x="1152.2" y="167.4" width="9.4" height="12.0" fill="#d64c48" rx="1.3"/>
<line x1="1171.5" y1="155.7" x2="1171.5" y2="226.1" stroke="#d64c48" stroke-width="1.7"/>
<rect x="1166.8" y="178.7" width="9.4" height="34.7" fill="#d64c48" rx="1.3"/>
<line x1="1185.7" y1="209.7" x2="1185.7" y2="254.2" stroke="#d64c48" stroke-width="1.7"/>
<rect x="1181.0" y="213.4" width="9.4" height="37.2" fill="#d64c48" rx="1.3"/>
<line x1="1199.9" y1="234.2" x2="1199.9" y2="281.6" stroke="#d64c48" stroke-width="1.7"/>
<rect x="1195.2" y="247.7" width="9.4" height="14.9" fill="#d64c48" rx="1.3"/>
<line x1="1214.9" y1="247.7" x2="1214.9" y2="290.7" stroke="#d64c48" stroke-width="1.7"/>
<rect x="1210.2" y="247.7" width="9.4" height="20.0" fill="#d64c48" rx="1.3"/>
<line x1="1229.5" y1="257.9" x2="1229.5" y2="327.9" stroke="#d64c48" stroke-width="1.7"/>
<rect x="1224.8" y="261.5" width="9.4" height="38.3" fill="#d64c48" rx="1.3"/>
<line x1="1245.9" y1="240.8" x2="1245.9" y2="303.5" stroke="#63ad87" stroke-width="1.7"/>
<rect x="1241.2" y="242.6" width="9.4" height="60.9" fill="#63ad87" rx="1.3"/>
<line x1="1260.5" y1="176.5" x2="1260.5" y2="257.9" stroke="#63ad87" stroke-width="1.7"/>
<rect x="1255.8" y="183.0" width="9.4" height="58.5" fill="#63ad87" rx="1.3"/>
<line x1="1260.5" y1="176.5" x2="1260.5" y2="196.0" stroke="#52a073" stroke-width="1.7"/>
<rect x="1255.8" y="183.0" width="9.4" height="13.0" fill="#52a073" rx="1.3"/>
<line x1="1275.8" y1="161.2" x2="1275.8" y2="210.5" stroke="#52a073" stroke-width="1.7"/>
<rect x="1271.1" y="192.2" width="9.4" height="8.0" fill="#52a073" rx="1.3"/>
<line x1="1289.7" y1="164.1" x2="1289.7" y2="221.4" stroke="#d64c48" stroke-width="1.7"/>
<rect x="1285.0" y="166.0" width="9.4" height="25.5" fill="#d64c48" rx="1.3"/>
<line x1="1301.4" y1="127.3" x2="1301.4" y2="198.4" stroke="#63ad87" stroke-width="1.7"/>
<rect x="1296.7" y="174.0" width="9.4" height="24.4" fill="#63ad87" rx="1.3"/>
<line x1="1316.3" y1="99.9" x2="1316.3" y2="188.6" stroke="#d64c48" stroke-width="1.7"/>
<rect x="1311.6" y="136.4" width="9.4" height="43.8" fill="#d64c48" rx="1.3"/>
<line x1="365.6" y1="437.6" x2="378" y2="437.6" stroke="#d64c48" stroke-width="2"/>
<rect x="977.9" y="332.3" width="3.8" height="7.6" rx="1.6" fill="none" stroke="#8e2f2c" stroke-width="0.9"/>
<line x1="64.3" y1="383" x2="64.3" y2="553.5" stroke="#e8e8e8" stroke-width="1.3"/>
<line x1="63.6" y1="552.3" x2="1347" y2="552.3" stroke="#f0f0f0" stroke-width="1.6"/>
<line x1="66.25" y1="552" x2="66.25" y2="558.6" stroke="#e8e8e8" stroke-width="1.1"/>
<text x="68" y="574.9" font-size="11.6" fill="#ececec" text-anchor="middle">60</text>
<line x1="111.75" y1="552" x2="111.75" y2="558.6" stroke="#e8e8e8" stroke-width="1.1"/>
<text x="110.75" y="574.9" font-size="11.6" fill="#ececec" text-anchor="middle">170</text>
<line x1="155.75" y1="552" x2="155.75" y2="558.6" stroke="#e8e8e8" stroke-width="1.1"/>
<text x="156.75" y="574.9" font-size="11.6" fill="#ececec" text-anchor="middle">590</text>
<line x1="201.25" y1="552" x2="201.25" y2="558.6" stroke="#e8e8e8" stroke-width="1.1"/>
<text x="200.5" y="574.9" font-size="11.6" fill="#ececec" text-anchor="middle">290</text>
<line x1="243.75" y1="552" x2="243.75" y2="558.6" stroke="#e8e8e8" stroke-width="1.1"/>
<text x="243" y="574.9" font-size="11.6" fill="#ececec" text-anchor="middle">580</text>
<line x1="287.5" y1="552" x2="287.5" y2="558.6" stroke="#e8e8e8" stroke-width="1.1"/>
<text x="286.75" y="574.9" font-size="11.6" fill="#ececec" text-anchor="middle">240</text>
<line x1="330.5" y1="552" x2="330.5" y2="558.6" stroke="#e8e8e8" stroke-width="1.1"/>
<text x="328.75" y="574.9" font-size="11.6" fill="#ececec" text-anchor="middle">390</text>
<line x1="373.75" y1="552" x2="373.75" y2="558.6" stroke="#e8e8e8" stroke-width="1.1"/>
<text x="373.75" y="574.9" font-size="11.6" fill="#ececec" text-anchor="middle">500</text>
<line x1="419.5" y1="552" x2="419.5" y2="558.6" stroke="#e8e8e8" stroke-width="1.1"/>
<text x="418" y="574.9" font-size="11.6" fill="#ececec" text-anchor="middle">380</text>
<line x1="462.5" y1="552" x2="462.5" y2="558.6" stroke="#e8e8e8" stroke-width="1.1"/>
<text x="461.75" y="574.9" font-size="11.6" fill="#ececec" text-anchor="middle">360</text>
<line x1="505.5" y1="552" x2="505.5" y2="558.6" stroke="#e8e8e8" stroke-width="1.1"/>
<text x="508" y="574.9" font-size="11.6" fill="#ececec" text-anchor="middle">360</text>
<line x1="553" y1="552" x2="553" y2="558.6" stroke="#e8e8e8" stroke-width="1.1"/>
<text x="553.75" y="574.9" font-size="11.6" fill="#ececec" text-anchor="middle">290</text>
<line x1="594.5" y1="552" x2="594.5" y2="558.6" stroke="#e8e8e8" stroke-width="1.1"/>
<text x="595.75" y="574.9" font-size="11.6" fill="#ececec" text-anchor="middle">300</text>
<line x1="638.75" y1="552" x2="638.75" y2="558.6" stroke="#e8e8e8" stroke-width="1.1"/>
<text x="639.5" y="574.9" font-size="11.6" fill="#ececec" text-anchor="middle">290</text>
<line x1="683" y1="552" x2="683" y2="558.6" stroke="#e8e8e8" stroke-width="1.1"/>
<text x="683.75" y="574.9" font-size="11.6" fill="#ececec" text-anchor="middle">300</text>
<line x1="728.75" y1="552" x2="728.75" y2="558.6" stroke="#e8e8e8" stroke-width="1.1"/>
<text x="729.25" y="574.9" font-size="11.6" fill="#ececec" text-anchor="middle">590</text>
<line x1="785" y1="552" x2="785" y2="558.6" stroke="#e8e8e8" stroke-width="1.1"/>
<text x="787.5" y="574.9" font-size="11.6" fill="#ececec" text-anchor="middle">90</text>
<line x1="835" y1="552" x2="835" y2="558.6" stroke="#e8e8e8" stroke-width="1.1"/>
<text x="835" y="574.9" font-size="11.6" fill="#ececec" text-anchor="middle">170</text>
<line x1="875.5" y1="552" x2="875.5" y2="558.6" stroke="#e8e8e8" stroke-width="1.1"/>
<text x="875.5" y="574.9" font-size="11.6" fill="#ececec" text-anchor="middle">50</text>
<line x1="912" y1="552" x2="912" y2="558.6" stroke="#e8e8e8" stroke-width="1.1"/>
<text x="914.25" y="574.9" font-size="11.6" fill="#ececec" text-anchor="middle">580</text>
<line x1="953.75" y1="552" x2="953.75" y2="558.6" stroke="#e8e8e8" stroke-width="1.1"/>
<text x="955" y="574.9" font-size="11.6" fill="#ececec" text-anchor="middle">230</text>
<line x1="992.5" y1="552" x2="992.5" y2="558.6" stroke="#e8e8e8" stroke-width="1.1"/>
<text x="994.5" y="574.9" font-size="11.6" fill="#ececec" text-anchor="middle">80</text>
<line x1="1032.5" y1="552" x2="1032.5" y2="558.6" stroke="#e8e8e8" stroke-width="1.1"/>
<text x="1033" y="574.9" font-size="11.6" fill="#ececec" text-anchor="middle">880</text>
<line x1="1073.75" y1="552" x2="1073.75" y2="558.6" stroke="#e8e8e8" stroke-width="1.1"/>
<text x="1075.75" y="574.9" font-size="11.6" fill="#ececec" text-anchor="middle">70</text>
<line x1="1112.5" y1="552" x2="1112.5" y2="558.6" stroke="#e8e8e8" stroke-width="1.1"/>
<text x="1113.25" y="574.9" font-size="11.6" fill="#ececec" text-anchor="middle">80</text>
<line x1="1150.5" y1="552" x2="1150.5" y2="558.6" stroke="#e8e8e8" stroke-width="1.1"/>
<text x="1150.5" y="574.9" font-size="11.6" fill="#ececec" text-anchor="middle">90</text>
<line x1="1190.75" y1="552" x2="1190.75" y2="558.6" stroke="#e8e8e8" stroke-width="1.1"/>
<text x="1190.75" y="574.9" font-size="11.6" fill="#ececec" text-anchor="middle">160</text>
<line x1="1229.5" y1="552" x2="1229.5" y2="558.6" stroke="#e8e8e8" stroke-width="1.1"/>
<text x="1228" y="574.9" font-size="11.6" fill="#ececec" text-anchor="middle">90</text>
<line x1="1265.75" y1="552" x2="1265.75" y2="558.6" stroke="#e8e8e8" stroke-width="1.1"/>
<text x="1266.75" y="574.9" font-size="11.6" fill="#ececec" text-anchor="middle">760</text>
<line x1="1309.25" y1="552" x2="1309.25" y2="558.6" stroke="#e8e8e8" stroke-width="1.1"/>
<text x="1309.25" y="574.9" font-size="11.6" fill="#ececec" text-anchor="middle">90</text>
<text x="47.6" y="120.3" font-size="12.4" fill="#ececec" text-anchor="end">1880</text>
<text x="47.6" y="153.2" font-size="12.6" fill="#ececec" text-anchor="end">2000</text>
<text x="47.6" y="199.0" font-size="12.6" fill="#ececec" text-anchor="end">2590</text>
<text x="47.6" y="244.1" font-size="12.6" fill="#ececec" text-anchor="end">2600</text>
<text x="47.6" y="277.5" font-size="12.6" fill="#ececec" text-anchor="end">3600</text>
<text x="47.6" y="320.3" font-size="12.8" fill="#ececec" text-anchor="end">4800</text>
<text x="47.6" y="365.7" font-size="13" fill="#ececec" text-anchor="end">1690</text>
<text x="47.6" y="391.3" font-size="13.2" fill="#ececec" text-anchor="end">4000</text>
<text x="47.6" y="437.0" font-size="13.2" fill="#ececec" text-anchor="end">2400</text>
<text x="47.6" y="472.9" font-size="13.2" fill="#ececec" text-anchor="end">3.60</text>
<text x="47.6" y="509.1" font-size="13.2" fill="#ececec" text-anchor="end">3700</text>
<text x="47.6" y="549.7" font-size="13.2" fill="#ececec" text-anchor="end">2600</text>
<text x="14.5" y="87.2" font-size="17.2" fill="#e4e4e4" textLength="48.2" lengthAdjust="spacingAndGlyphs">Teene</text>
<polygon points="25.2,26 33,28.8 52,21.5 32.7,42.2" fill="#fff"/>
<rect x="74.2" y="23.5" width="117.2" height="18.5" fill="#599b75"/>
<text x="1131.3" y="29.4" font-size="14.1" fill="#f4f4f4" stroke="#f4f4f4" stroke-width="0.25" textLength="50.7" lengthAdjust="spacingAndGlyphs">Manloy</text>
<text x="1189.7" y="29.4" font-size="14.1" fill="#f4f4f4" stroke="#f4f4f4" stroke-width="0.25" textLength="61.3" lengthAdjust="spacingAndGlyphs">Fonecics</text>
<text x="1254.5" y="29.4" font-size="14.1" fill="#f4f4f4" stroke="#f4f4f4" stroke-width="0.25" textLength="6.3" lengthAdjust="spacingAndGlyphs">-</text>
<text x="1263" y="29.4" font-size="14.1" fill="#f4f4f4" stroke="#f4f4f4" stroke-width="0.25" textLength="73.3" lengthAdjust="spacingAndGlyphs">Intlseurys</text>
<text x="1307.2" y="90.1" font-size="10.6" fill="#f2f2f2" textLength="29.8" lengthAdjust="spacingAndGlyphs">14068</text>
<text class="ser" x="78.3" y="113.8" font-size="42.6" fill="#fff" textLength="102.3" lengthAdjust="spacingAndGlyphs">Treat</text>
<text class="ser" x="189.2" y="113.8" font-size="42.6" fill="#fff" textLength="27.6" lengthAdjust="spacingAndGlyphs">tr</text>
<text class="ser" x="226.6" y="113.8" font-size="42.6" fill="#fff" textLength="116.6" lengthAdjust="spacingAndGlyphs">octier</text>
<text class="ser" x="350.3" y="113.8" font-size="42.6" fill="#fff" textLength="166.0" lengthAdjust="spacingAndGlyphs">trovdres</text>
<text class="ser" x="529.3" y="113.8" font-size="42.6" fill="#fff" textLength="135.2" lengthAdjust="spacingAndGlyphs">loctsth</text>
<text class="ser" x="79.4" y="153.7" font-size="42.6" fill="#fff" textLength="164.0" lengthAdjust="spacingAndGlyphs">sixnortd</text>
<text class="ser" x="254.6" y="153.7" font-size="42.6" fill="#fff" textLength="107.1" lengthAdjust="spacingAndGlyphs">sixdx</text>
<text class="ser" x="366.4" y="153.7" font-size="42.6" fill="#fff" textLength="11.6" lengthAdjust="spacingAndGlyphs">-</text>
<text class="ser" x="379.4" y="153.7" font-size="42.6" fill="#fff" textLength="123.1" lengthAdjust="spacingAndGlyphs">month</text>
<text class="ser" x="515" y="153.7" font-size="42.6" fill="#fff" textLength="90.0" lengthAdjust="spacingAndGlyphs">low..</text>
<text x="28.2" y="628.3" font-size="11.4" fill="#f0f0f0" stroke="#f0f0f0" stroke-width="0.25" textLength="256.8" lengthAdjust="spacingAndGlyphs">Cheare afores el Fite alores for Steoton Vonies</text>
<text x="298.5" y="628.3" font-size="11.4" fill="#f0f0f0" stroke="#f0f0f0" stroke-width="0.25" textLength="148.0" lengthAdjust="spacingAndGlyphs">• Y'Rnal o ntrenoalimage Ry</text>
<text x="457.5" y="628.3" font-size="11.4" fill="#f0f0f0" stroke="#f0f0f0" stroke-width="0.25" textLength="183.5" lengthAdjust="spacingAndGlyphs">• Rlactend Nod nyt/he Deataninclra)</text>
<line x1="50" y1="688.3" x2="700" y2="688.3" stroke="#cfcfcf" stroke-width="0.8" stroke-dasharray="2 1.5"/>
<line x1="51" y1="728.4" x2="1328" y2="728.4" stroke="#8b8b8b" stroke-width="1"/>
<rect x="51.25" y="710.90" width="4.8" height="17.50" fill="#52966c"/>
<rect x="58.25" y="708.90" width="4.8" height="19.50" fill="#52966c"/>
<rect x="65.00" y="716.60" width="4.8" height="11.80" fill="#52966c"/>
<rect x="72.00" y="695.40" width="4.8" height="33.00" fill="#52966c"/>
<rect x="78.25" y="704.60" width="4.8" height="23.80" fill="#52966c"/>
<rect x="85.00" y="699.60" width="4.8" height="28.80" fill="#52966c"/>
<rect x="91.25" y="708.40" width="4.8" height="20.00" fill="#52966c"/>
<rect x="97.50" y="702.40" width="4.8" height="26.00" fill="#52966c"/>
<rect x="103.75" y="700.40" width="4.8" height="28.00" fill="#52966c"/>
<rect x="108.00" y="690.40" width="4.8" height="38.00" fill="#52966c"/>
<rect x="111.25" y="700.40" width="4.8" height="28.00" fill="#52966c"/>
<rect x="117.00" y="676.40" width="4.8" height="52.00" fill="#52966c"/>
<rect x="123.75" y="700.90" width="4.8" height="27.50" fill="#52966c"/>
<rect x="130.00" y="697.40" width="4.8" height="31.00" fill="#52966c"/>
<rect x="137.00" y="695.90" width="4.8" height="32.50" fill="#52966c"/>
<rect x="143.25" y="677.40" width="4.8" height="51.00" fill="#52966c"/>
<rect x="150.75" y="674.40" width="4.8" height="54.00" fill="#52966c"/>
<rect x="157.00" y="688.40" width="4.8" height="40.00" fill="#52966c"/>
<rect x="160.00" y="685.40" width="4.8" height="43.00" fill="#52966c"/>
<rect x="163.75" y="692.40" width="4.8" height="36.00" fill="#52966c"/>
<rect x="170.00" y="691.40" width="4.8" height="37.00" fill="#52966c"/>
<rect x="176.25" y="700.90" width="4.8" height="27.50" fill="#52966c"/>
<rect x="182.00" y="697.40" width="4.8" height="31.00" fill="#52966c"/>
<rect x="188.75" y="700.90" width="4.8" height="27.50" fill="#52966c"/>
<rect x="195.00" y="713.40" width="4.8" height="15.00" fill="#52966c"/>
<rect x="202.00" y="686.40" width="4.8" height="42.00" fill="#52966c"/>
<rect x="208.25" y="697.90" width="4.8" height="30.50" fill="#52966c"/>
<rect x="213.75" y="686.60" width="4.8" height="41.80" fill="#52966c"/>
<rect x="221.25" y="707.60" width="4.8" height="20.80" fill="#52966c"/>
<rect x="228.00" y="699.60" width="4.8" height="28.80" fill="#52966c"/>
<rect x="234.50" y="711.60" width="4.8" height="16.80" fill="#52966c"/>
<rect x="240.00" y="712.60" width="4.8" height="15.80" fill="#52966c"/>
<rect x="246.25" y="665.90" width="4.8" height="62.50" fill="#52966c"/>
<rect x="252.00" y="649.10" width="4.8" height="79.30" fill="#52966c"/>
<rect x="258.75" y="671.40" width="4.8" height="57.00" fill="#52966c"/>
<rect x="265.00" y="673.90" width="4.8" height="54.50" fill="#52966c"/>
<rect x="272.00" y="672.10" width="4.8" height="56.30" fill="#52966c"/>
<rect x="278.25" y="688.40" width="4.8" height="40.00" fill="#52966c"/>
<rect x="285.00" y="677.10" width="4.8" height="51.30" fill="#52966c"/>
<rect x="292.00" y="686.40" width="4.8" height="42.00" fill="#52966c"/>
<rect x="298.75" y="706.60" width="4.8" height="21.80" fill="#52966c"/>
<rect x="305.50" y="706.40" width="4.8" height="22.00" fill="#52966c"/>
<rect x="312.00" y="709.60" width="4.8" height="18.80" fill="#52966c"/>
<rect x="318.75" y="706.40" width="4.8" height="22.00" fill="#52966c"/>
<rect x="325.50" y="695.90" width="4.8" height="32.50" fill="#52966c"/>
<rect x="332.00" y="701.60" width="4.8" height="26.80" fill="#52966c"/>
<rect x="340.00" y="705.40" width="4.8" height="23.00" fill="#52966c"/>
<rect x="345.50" y="697.60" width="4.8" height="30.80" fill="#52966c"/>
<rect x="352.50" y="682.40" width="4.8" height="46.00" fill="#52966c"/>
<rect x="358.75" y="708.40" width="4.8" height="20.00" fill="#52966c"/>
<rect x="365.00" y="705.60" width="4.8" height="22.80" fill="#52966c"/>
<rect x="371.25" y="699.60" width="4.8" height="28.80" fill="#52966c"/>
<rect x="378.00" y="694.60" width="4.8" height="33.80" fill="#52966c"/>
<rect x="384.50" y="707.40" width="4.8" height="21.00" fill="#52966c"/>
<rect x="391.25" y="700.90" width="4.8" height="27.50" fill="#52966c"/>
<rect x="398.00" y="683.40" width="4.8" height="45.00" fill="#52966c"/>
<rect x="404.50" y="692.40" width="4.8" height="36.00" fill="#52966c"/>
<rect x="411.25" y="695.60" width="4.8" height="32.80" fill="#52966c"/>
<rect x="418.00" y="698.90" width="4.8" height="29.50" fill="#52966c"/>
<rect x="424.50" y="677.60" width="4.8" height="50.80" fill="#52966c"/>
<rect x="431.25" y="702.60" width="4.8" height="25.80" fill="#52966c"/>
<rect x="437.50" y="700.60" width="4.8" height="27.80" fill="#52966c"/>
<rect x="444.25" y="706.60" width="4.8" height="21.80" fill="#52966c"/>
<rect x="450.75" y="704.40" width="4.8" height="24.00" fill="#52966c"/>
<rect x="457.50" y="675.90" width="4.8" height="52.50" fill="#52966c"/>
<rect x="464.25" y="675.40" width="4.8" height="53.00" fill="#52966c"/>
<rect x="470.50" y="708.40" width="4.8" height="20.00" fill="#52966c"/>
<rect x="476.75" y="707.40" width="4.8" height="21.00" fill="#52966c"/>
<rect x="483.25" y="703.40" width="4.8" height="25.00" fill="#52966c"/>
<rect x="490.00" y="707.90" width="4.8" height="20.50" fill="#52966c"/>
<rect x="496.50" y="682.40" width="4.8" height="46.00" fill="#52966c"/>
<rect x="503.00" y="698.60" width="4.8" height="29.80" fill="#52966c"/>
<rect x="509.50" y="706.40" width="4.8" height="22.00" fill="#52966c"/>
<rect x="516.00" y="698.40" width="4.8" height="30.00" fill="#52966c"/>
<rect x="522.75" y="701.40" width="4.8" height="27.00" fill="#52966c"/>
<rect x="529.25" y="703.40" width="4.8" height="25.00" fill="#52966c"/>
<rect x="535.75" y="698.60" width="4.8" height="29.80" fill="#52966c"/>
<rect x="542.25" y="700.60" width="4.8" height="27.80" fill="#52966c"/>
<rect x="551.25" y="685.60" width="4.8" height="42.80" fill="#52966c"/>
<rect x="557.50" y="695.40" width="4.8" height="33.00" fill="#52966c"/>
<rect x="563.75" y="708.40" width="4.8" height="20.00" fill="#52966c"/>
<rect x="568.75" y="708.90" width="4.8" height="19.50" fill="#52966c"/>
<rect x="575.00" y="703.40" width="4.8" height="25.00" fill="#52966c"/>
<rect x="581.50" y="698.40" width="4.8" height="30.00" fill="#52966c"/>
<rect x="588.75" y="710.60" width="4.8" height="17.80" fill="#52966c"/>
<rect x="593.75" y="713.90" width="4.8" height="14.50" fill="#52966c"/>
<rect x="598.75" y="702.60" width="4.8" height="25.80" fill="#52966c"/>
<rect x="604.50" y="686.60" width="4.8" height="41.80" fill="#52966c"/>
<rect x="611.25" y="674.60" width="4.8" height="53.80" fill="#52966c"/>
<rect x="789.25" y="697.10" width="4.8" height="31.30" fill="#52966c"/>
<rect x="795.75" y="681.40" width="4.8" height="47.00" fill="#52966c"/>
<rect x="802.50" y="702.60" width="4.8" height="25.80" fill="#52966c"/>
<rect x="808.75" y="682.10" width="4.8" height="46.30" fill="#52966c"/>
<rect x="815.50" y="698.10" width="4.8" height="30.30" fill="#52966c"/>
<rect x="822.00" y="696.40" width="4.8" height="32.00" fill="#52966c"/>
<rect x="828.25" y="676.60" width="4.8" height="51.80" fill="#52966c"/>
<rect x="835.50" y="699.90" width="4.8" height="28.50" fill="#52966c"/>
<rect x="841.75" y="695.90" width="4.8" height="32.50" fill="#52966c"/>
<rect x="848.25" y="687.60" width="4.8" height="40.80" fill="#52966c"/>
<rect x="854.75" y="687.10" width="4.8" height="41.30" fill="#52966c"/>
<rect x="861.50" y="696.90" width="4.8" height="31.50" fill="#52966c"/>
<rect x="868.00" y="681.10" width="4.8" height="47.30" fill="#52966c"/>
<rect x="874.75" y="672.10" width="4.8" height="56.30" fill="#52966c"/>
<rect x="881.25" y="687.10" width="4.8" height="41.30" fill="#52966c"/>
<rect x="888.00" y="701.90" width="4.8" height="26.50" fill="#52966c"/>
<rect x="894.50" y="708.90" width="4.8" height="19.50" fill="#52966c"/>
<rect x="901.25" y="698.90" width="4.8" height="29.50" fill="#52966c"/>
<rect x="908.00" y="711.40" width="4.8" height="17.00" fill="#52966c"/>
<rect x="914.50" y="706.40" width="4.8" height="22.00" fill="#52966c"/>
<rect x="921.25" y="709.60" width="4.8" height="18.80" fill="#52966c"/>
<rect x="927.50" y="671.90" width="4.8" height="56.50" fill="#52966c"/>
<rect x="934.25" y="682.40" width="4.8" height="46.00" fill="#52966c"/>
<rect x="940.75" y="678.40" width="4.8" height="50.00" fill="#52966c"/>
<rect x="947.50" y="688.90" width="4.8" height="39.50" fill="#52966c"/>
<rect x="953.75" y="679.60" width="4.8" height="48.80" fill="#52966c"/>
<rect x="961.00" y="664.10" width="4.8" height="64.30" fill="#52966c"/>
<rect x="967.25" y="690.90" width="4.8" height="37.50" fill="#52966c"/>
<rect x="973.50" y="690.40" width="4.8" height="38.00" fill="#52966c"/>
<rect x="980.25" y="701.40" width="4.8" height="27.00" fill="#52966c"/>
<rect x="986.75" y="694.40" width="4.8" height="34.00" fill="#52966c"/>
<rect x="993.25" y="693.10" width="4.8" height="35.30" fill="#52966c"/>
<rect x="1000.00" y="705.60" width="4.8" height="22.80" fill="#52966c"/>
<rect x="1004.50" y="701.10" width="4.8" height="27.30" fill="#52966c"/>
<rect x="1011.25" y="682.60" width="4.8" height="45.80" fill="#52966c"/>
<rect x="1017.50" y="696.40" width="4.8" height="32.00" fill="#52966c"/>
<rect x="1023.00" y="688.90" width="4.8" height="39.50" fill="#52966c"/>
<rect x="1029.50" y="698.10" width="4.8" height="30.30" fill="#52966c"/>
<rect x="1036.25" y="680.10" width="4.8" height="48.30" fill="#52966c"/>
<rect x="1245.00" y="713.90" width="4.8" height="14.50" fill="#52966c"/>
<rect x="1251.25" y="693.10" width="4.8" height="35.30" fill="#52966c"/>
<rect x="1257.50" y="695.10" width="4.8" height="33.30" fill="#52966c"/>
<rect x="1264.25" y="684.10" width="4.8" height="44.30" fill="#52966c"/>
<rect x="1270.75" y="701.40" width="4.8" height="27.00" fill="#52966c"/>
<rect x="1277.50" y="699.60" width="4.8" height="28.80" fill="#52966c"/>
<rect x="1283.75" y="703.10" width="4.8" height="25.30" fill="#52966c"/>
<rect x="1290.50" y="699.40" width="4.8" height="29.00" fill="#52966c"/>
<rect x="1297.00" y="704.40" width="4.8" height="24.00" fill="#52966c"/>
<rect x="1303.75" y="696.60" width="4.8" height="31.80" fill="#52966c"/>
<rect x="1310.50" y="704.10" width="4.8" height="24.30" fill="#52966c"/>
<rect x="1317.00" y="708.40" width="4.8" height="20.00" fill="#52966c"/>
<rect x="1323.25" y="695.10" width="4.8" height="33.30" fill="#52966c"/>
<rect x="80.00" y="694.50" width="3.00" height="8.50" fill="#d4403f" rx="1"/>
<rect x="91.25" y="708.00" width="3.75" height="9.00" fill="#d4403f" rx="1"/>
<rect x="98.75" y="702.00" width="3.25" height="6.75" fill="#d4403f" rx="1"/>
<rect x="122.50" y="693.25" width="4.50" height="3.75" fill="#d4403f" rx="1"/>
<rect x="137.50" y="694.50" width="4.50" height="1.75" fill="#d4403f" rx="1"/>
<rect x="142.50" y="696.25" width="5.00" height="11.75" fill="#d4403f" rx="1"/>
<rect x="150.00" y="692.50" width="3.75" height="12.50" fill="#d4403f" rx="1"/>
<rect x="163.75" y="692.50" width="3.25" height="12.50" fill="#d4403f" rx="1"/>
<rect x="176.25" y="701.75" width="4.25" height="7.00" fill="#d4403f" rx="1"/>
<rect x="188.75" y="698.75" width="3.75" height="5.00" fill="#d4403f" rx="1"/>
<rect x="565.00" y="700.75" width="5.50" height="6.75" fill="#d4403f" rx="1"/>
<rect x="598.75" y="713.75" width="3.75" height="2.50" fill="#d4403f" rx="1"/>
<rect x="895.00" y="705.00" width="5.00" height="3.75" fill="#d4403f" rx="1"/>
<rect x="907.50" y="707.50" width="3.75" height="3.00" fill="#d4403f" rx="1"/>
<rect x="915.00" y="701.25" width="3.75" height="8.75" fill="#d4403f" rx="1"/>
<rect x="921.25" y="700.00" width="3.75" height="6.25" fill="#52966c" rx="1"/>
<rect x="1017.00" y="693.00" width="3.50" height="4.00" fill="#d4403f" rx="1"/>
<rect x="1250.00" y="704.25" width="5.50" height="2.50" fill="#d4403f" rx="1"/>
<rect x="1257.50" y="691.25" width="3.00" height="2.50" fill="#d4403f" rx="1"/>
<line x1="619.50" y1="683.75" x2="619.50" y2="697.50" stroke="#3f8a5c" stroke-width="1.1"/>
<rect x="617.30" y="683.75" width="4.4" height="13.75" fill="#3f8a5c" rx="0.9"/>
<line x1="619.50" y1="697.50" x2="619.50" y2="702.50" stroke="#d4403f" stroke-width="1.1"/>
<rect x="617.30" y="697.50" width="4.4" height="5.00" fill="#d4403f" rx="0.9"/>
<line x1="625.00" y1="689.50" x2="625.00" y2="715.50" stroke="#4d9a6c" stroke-width="1.1"/>
<rect x="622.80" y="700.00" width="4.4" height="8.75" fill="#4d9a6c" rx="0.9"/>
<line x1="631.75" y1="697.50" x2="631.75" y2="708.00" stroke="#d4403f" stroke-width="1.1"/>
<rect x="629.55" y="697.50" width="4.4" height="10.50" fill="#d4403f" rx="0.9"/>
<line x1="638.75" y1="696.25" x2="638.75" y2="718.00" stroke="#d4403f" stroke-width="1.1"/>
<rect x="636.55" y="696.25" width="4.4" height="16.25" fill="#d4403f" rx="0.9"/>
<line x1="645.00" y1="699.25" x2="645.00" y2="713.00" stroke="#4d9a6c" stroke-width="1.1"/>
<rect x="642.80" y="699.25" width="4.4" height="13.75" fill="#4d9a6c" rx="0.9"/>
<line x1="651.50" y1="701.25" x2="651.50" y2="716.25" stroke="#d4403f" stroke-width="1.1"/>
<rect x="649.30" y="701.25" width="4.4" height="7.00" fill="#d4403f" rx="0.9"/>
<line x1="658.25" y1="692.50" x2="658.25" y2="724.50" stroke="#4d9a6c" stroke-width="1.1"/>
<rect x="656.05" y="692.50" width="4.4" height="15.00" fill="#d4403f" rx="0.9"/>
<line x1="664.50" y1="695.00" x2="664.50" y2="719.50" stroke="#4d9a6c" stroke-width="1.1"/>
<rect x="662.30" y="695.00" width="4.4" height="8.50" fill="#d4403f" rx="0.9"/>
<line x1="670.50" y1="688.75" x2="670.50" y2="705.00" stroke="#4d9a6c" stroke-width="1.1"/>
<rect x="668.30" y="691.25" width="4.4" height="10.75" fill="#4d9a6c" rx="0.9"/>
<line x1="678.25" y1="670.50" x2="678.25" y2="698.00" stroke="#3f8a5c" stroke-width="1.1"/>
<rect x="676.05" y="679.50" width="4.4" height="18.50" fill="#3f8a5c" rx="0.9"/>
<line x1="687.00" y1="667.00" x2="687.00" y2="712.00" stroke="#3f8a5c" stroke-width="1.1"/>
<rect x="684.80" y="667.00" width="4.4" height="45.00" fill="#3f8a5c" rx="0.9"/>
<line x1="693.75" y1="652.00" x2="693.75" y2="690.00" stroke="#3f8a5c" stroke-width="1.1"/>
<rect x="691.55" y="665.75" width="4.4" height="24.25" fill="#3f8a5c" rx="0.9"/>
<line x1="699.25" y1="658.75" x2="699.25" y2="665.00" stroke="#d4403f" stroke-width="1.1"/>
<rect x="697.05" y="658.75" width="4.4" height="6.25" fill="#d4403f" rx="0.9"/>
<line x1="705.00" y1="660.00" x2="705.00" y2="683.75" stroke="#d4403f" stroke-width="1.1"/>
<rect x="702.80" y="660.00" width="4.4" height="23.75" fill="#d4403f" rx="0.9"/>
<line x1="711.25" y1="675.75" x2="711.25" y2="702.00" stroke="#d4403f" stroke-width="1.1"/>
<rect x="709.05" y="675.75" width="4.4" height="10.50" fill="#d4403f" rx="0.9"/>
<line x1="717.50" y1="667.00" x2="717.50" y2="683.75" stroke="#4d9a6c" stroke-width="1.1"/>
<rect x="715.30" y="671.25" width="4.4" height="10.00" fill="#4d9a6c" rx="0.9"/>
<line x1="723.75" y1="661.25" x2="723.75" y2="686.25" stroke="#3f8a5c" stroke-width="1.1"/>
<rect x="721.55" y="666.25" width="4.4" height="20.00" fill="#3f8a5c" rx="0.9"/>
<line x1="730.00" y1="646.25" x2="730.00" y2="675.75" stroke="#3f8a5c" stroke-width="1.1"/>
<rect x="727.80" y="653.75" width="4.4" height="22.00" fill="#3f8a5c" rx="0.9"/>
<line x1="735.75" y1="650.50" x2="735.75" y2="682.50" stroke="#d4403f" stroke-width="1.1"/>
<rect x="733.55" y="657.00" width="4.4" height="25.50" fill="#d4403f" rx="0.9"/>
<line x1="742.50" y1="668.75" x2="742.50" y2="699.50" stroke="#d4403f" stroke-width="1.1"/>
<rect x="740.30" y="668.75" width="4.4" height="28.25" fill="#d4403f" rx="0.9"/>
<line x1="748.75" y1="677.00" x2="748.75" y2="705.00" stroke="#d4403f" stroke-width="1.1"/>
<rect x="746.55" y="683.25" width="4.4" height="13.75" fill="#d4403f" rx="0.9"/>
<line x1="755.00" y1="692.50" x2="755.00" y2="698.75" stroke="#4d9a6c" stroke-width="1.1"/>
<rect x="752.80" y="692.50" width="4.4" height="6.25" fill="#4d9a6c" rx="0.9"/>
<line x1="761.25" y1="685.00" x2="761.25" y2="697.50" stroke="#4d9a6c" stroke-width="1.1"/>
<rect x="759.05" y="688.00" width="4.4" height="9.50" fill="#4d9a6c" rx="0.9"/>
<line x1="767.50" y1="684.50" x2="767.50" y2="692.50" stroke="#4d9a6c" stroke-width="1.1"/>
<rect x="765.30" y="684.50" width="4.4" height="8.00" fill="#4d9a6c" rx="0.9"/>
<line x1="774.00" y1="669.25" x2="774.00" y2="693.00" stroke="#3f8a5c" stroke-width="1.1"/>
<rect x="771.80" y="675.75" width="4.4" height="15.00" fill="#3f8a5c" rx="0.9"/>
<line x1="780.00" y1="670.00" x2="780.00" y2="688.75" stroke="#d4403f" stroke-width="1.1"/>
<rect x="777.80" y="678.75" width="4.4" height="6.75" fill="#d4403f" rx="0.9"/>
<line x1="785.00" y1="680.00" x2="785.00" y2="712.00" stroke="#d4403f" stroke-width="1.1"/>
<rect x="782.80" y="680.00" width="4.4" height="17.50" fill="#d4403f" rx="0.9"/>
<line x1="791.75" y1="690.00" x2="791.75" y2="702.50" stroke="#d4403f" stroke-width="1.1"/>
<rect x="789.55" y="690.00" width="4.4" height="12.50" fill="#d4403f" rx="0.9"/>
<line x1="805.00" y1="689.25" x2="805.00" y2="701.75" stroke="#d4403f" stroke-width="1.1"/>
<rect x="802.80" y="689.25" width="4.4" height="12.50" fill="#d4403f" rx="0.9"/>
<line x1="817.50" y1="694.25" x2="817.50" y2="698.00" stroke="#d4403f" stroke-width="1.1"/>
<rect x="815.30" y="694.25" width="4.4" height="3.75" fill="#d4403f" rx="0.9"/>
<line x1="823.75" y1="690.00" x2="823.75" y2="697.00" stroke="#4d9a6c" stroke-width="1.1"/>
<rect x="821.55" y="693.75" width="4.4" height="3.25" fill="#4d9a6c" rx="0.9"/>
<line x1="1038.50" y1="675.75" x2="1038.50" y2="680.00" stroke="#3f8a5c" stroke-width="1.1"/>
<line x1="1045.00" y1="675.75" x2="1045.00" y2="692.50" stroke="#d4403f" stroke-width="1.1"/>
<rect x="1042.80" y="678.75" width="4.4" height="11.25" fill="#d4403f" rx="0.9"/>
<line x1="1050.75" y1="656.25" x2="1050.75" y2="691.25" stroke="#3f8a5c" stroke-width="1.1"/>
<rect x="1048.55" y="659.50" width="4.4" height="29.25" fill="#3f8a5c" rx="0.9"/>
<line x1="1056.75" y1="659.50" x2="1056.75" y2="685.00" stroke="#d4403f" stroke-width="1.1"/>
<rect x="1054.55" y="663.75" width="4.4" height="21.25" fill="#d4403f" rx="0.9"/>
<line x1="1063.50" y1="668.00" x2="1063.50" y2="700.50" stroke="#d4403f" stroke-width="1.1"/>
<rect x="1061.30" y="668.00" width="4.4" height="32.50" fill="#d4403f" rx="0.9"/>
<line x1="1070.00" y1="678.00" x2="1070.00" y2="715.50" stroke="#d4403f" stroke-width="1.1"/>
<rect x="1067.80" y="678.00" width="4.4" height="15.00" fill="#d4403f" rx="0.9"/>
<line x1="1076.00" y1="684.50" x2="1076.00" y2="707.00" stroke="#3f8a5c" stroke-width="1.1"/>
<rect x="1073.80" y="687.00" width="4.4" height="18.00" fill="#3f8a5c" rx="0.9"/>
<line x1="1081.75" y1="671.25" x2="1081.75" y2="689.25" stroke="#3f8a5c" stroke-width="1.1"/>
<rect x="1079.55" y="674.50" width="4.4" height="14.75" fill="#3f8a5c" rx="0.9"/>
<line x1="1088.00" y1="678.25" x2="1088.00" y2="695.50" stroke="#d4403f" stroke-width="1.1"/>
<rect x="1085.80" y="678.25" width="4.4" height="11.75" fill="#d4403f" rx="0.9"/>
<line x1="1095.00" y1="681.75" x2="1095.00" y2="709.50" stroke="#4d9a6c" stroke-width="1.1"/>
<rect x="1092.80" y="681.75" width="4.4" height="15.75" fill="#d4403f" rx="0.9"/>
<line x1="1101.25" y1="688.00" x2="1101.25" y2="706.25" stroke="#4d9a6c" stroke-width="1.1"/>
<rect x="1099.05" y="690.00" width="4.4" height="8.00" fill="#4d9a6c" rx="0.9"/>
<line x1="1108.00" y1="683.75" x2="1108.00" y2="726.25" stroke="#d4403f" stroke-width="1.1"/>
<rect x="1105.80" y="687.00" width="4.4" height="29.75" fill="#d4403f" rx="0.9"/>
<line x1="1113.75" y1="688.25" x2="1113.75" y2="725.00" stroke="#3f8a5c" stroke-width="1.1"/>
<rect x="1111.55" y="688.25" width="4.4" height="22.25" fill="#3f8a5c" rx="0.9"/>
<line x1="1120.25" y1="704.25" x2="1120.25" y2="724.50" stroke="#d4403f" stroke-width="1.1"/>
<rect x="1118.05" y="704.25" width="4.4" height="12.50" fill="#d4403f" rx="0.9"/>
<line x1="1126.50" y1="681.75" x2="1126.50" y2="716.25" stroke="#3f8a5c" stroke-width="1.1"/>
<rect x="1124.30" y="681.75" width="4.4" height="34.50" fill="#3f8a5c" rx="0.9"/>
<line x1="1132.75" y1="681.75" x2="1132.75" y2="726.25" stroke="#3f8a5c" stroke-width="1.1"/>
<rect x="1130.55" y="681.75" width="4.4" height="29.50" fill="#3f8a5c" rx="0.9"/>
<line x1="1139.00" y1="695.75" x2="1139.00" y2="726.25" stroke="#3f8a5c" stroke-width="1.1"/>
<rect x="1136.80" y="695.75" width="4.4" height="20.50" fill="#3f8a5c" rx="0.9"/>
<line x1="1145.50" y1="696.25" x2="1145.50" y2="723.75" stroke="#3f8a5c" stroke-width="1.1"/>
<rect x="1143.30" y="704.30" width="4.4" height="1.40" fill="#3f8a5c" rx="0.9"/>
<line x1="1151.75" y1="660.00" x2="1151.75" y2="705.00" stroke="#3f8a5c" stroke-width="1.1"/>
<rect x="1149.55" y="667.50" width="4.4" height="35.75" fill="#3f8a5c" rx="0.9"/>
<line x1="1158.25" y1="662.00" x2="1158.25" y2="693.75" stroke="#d4403f" stroke-width="1.1"/>
<rect x="1156.05" y="666.25" width="4.4" height="27.50" fill="#d4403f" rx="0.9"/>
<line x1="1165.00" y1="674.50" x2="1165.00" y2="718.00" stroke="#d4403f" stroke-width="1.1"/>
<rect x="1162.80" y="674.50" width="4.4" height="27.25" fill="#d4403f" rx="0.9"/>
<line x1="1171.25" y1="685.00" x2="1171.25" y2="705.00" stroke="#3f8a5c" stroke-width="1.1"/>
<rect x="1169.05" y="688.00" width="4.4" height="17.00" fill="#3f8a5c" rx="0.9"/>
<line x1="1177.50" y1="687.50" x2="1177.50" y2="708.00" stroke="#d4403f" stroke-width="1.1"/>
<rect x="1175.30" y="689.50" width="4.4" height="11.25" fill="#d4403f" rx="0.9"/>
<line x1="1184.00" y1="672.00" x2="1184.00" y2="700.50" stroke="#3f8a5c" stroke-width="1.1"/>
<rect x="1181.80" y="680.00" width="4.4" height="20.50" fill="#3f8a5c" rx="0.9"/>
<line x1="1190.50" y1="673.00" x2="1190.50" y2="695.50" stroke="#3f8a5c" stroke-width="1.1"/>
<rect x="1188.30" y="678.75" width="4.4" height="16.75" fill="#3f8a5c" rx="0.9"/>
<line x1="1197.00" y1="673.75" x2="1197.00" y2="701.25" stroke="#d4403f" stroke-width="1.1"/>
<rect x="1194.80" y="683.00" width="4.4" height="11.25" fill="#d4403f" rx="0.9"/>
<line x1="1203.50" y1="659.50" x2="1203.50" y2="681.25" stroke="#3f8a5c" stroke-width="1.1"/>
<rect x="1201.30" y="666.25" width="4.4" height="15.00" fill="#3f8a5c" rx="0.9"/>
<line x1="1210.00" y1="657.00" x2="1210.00" y2="674.50" stroke="#d4403f" stroke-width="1.1"/>
<rect x="1207.80" y="660.50" width="4.4" height="14.00" fill="#d4403f" rx="0.9"/>
<line x1="1216.50" y1="666.25" x2="1216.50" y2="689.25" stroke="#d4403f" stroke-width="1.1"/>
<rect x="1214.30" y="672.00" width="4.4" height="17.25" fill="#d4403f" rx="0.9"/>
<line x1="1223.25" y1="665.00" x2="1223.25" y2="675.50" stroke="#3f8a5c" stroke-width="1.1"/>
<rect x="1221.05" y="666.25" width="4.4" height="9.25" fill="#3f8a5c" rx="0.9"/>
<line x1="1230.25" y1="667.00" x2="1230.25" y2="687.50" stroke="#4d9a6c" stroke-width="1.1"/>
<rect x="1228.05" y="667.00" width="4.4" height="7.50" fill="#d4403f" rx="0.9"/>
<line x1="1237.00" y1="667.00" x2="1237.00" y2="687.00" stroke="#d4403f" stroke-width="1.1"/>
<rect x="1234.80" y="668.00" width="4.4" height="15.25" fill="#d4403f" rx="0.9"/>
<line x1="1245.50" y1="676.75" x2="1245.50" y2="711.25" stroke="#d4403f" stroke-width="1.1"/>
<rect x="1243.30" y="683.00" width="4.4" height="22.00" fill="#d4403f" rx="0.9"/>
<rect x="795.9" y="681.25" width="4.6" height="21.25" fill="#3f8a5c"/>
<text x="71.5" y="747.6" font-size="14.2" fill="#1c1c1c" stroke="#1c1c1c" stroke-width="0.3" textLength="156.0" lengthAdjust="spacingAndGlyphs">End. Bek aste: Leantfrore</text>
<text x="247" y="747.6" font-size="14.2" fill="#1c1c1c" stroke="#1c1c1c" stroke-width="0.3" textLength="114" lengthAdjust="spacingAndGlyphs">Conortly Skereant</text>
<text x="391" y="747.6" font-size="14.2" fill="#1c1c1c" stroke="#1c1c1c" stroke-width="0.3" textLength="121.5" lengthAdjust="spacingAndGlyphs">Aldetsn 1S 1 Manes</text>
<text x="562.5" y="747.6" font-size="14.2" fill="#1c1c1c" stroke="#1c1c1c" stroke-width="0.3" textLength="50.0" lengthAdjust="spacingAndGlyphs">Manoes</text>
<text x="665" y="747.6" font-size="14.2" fill="#1c1c1c" stroke="#1c1c1c" stroke-width="0.3" textLength="42.5" lengthAdjust="spacingAndGlyphs">Stralie</text>
<text x="775.5" y="747.6" font-size="14.2" fill="#1c1c1c" stroke="#1c1c1c" stroke-width="0.3" textLength="122.5" lengthAdjust="spacingAndGlyphs">Aderost in Merens</text>
<text x="941" y="747.6" font-size="14.2" fill="#1c1c1c" stroke="#1c1c1c" stroke-width="0.3" textLength="122" lengthAdjust="spacingAndGlyphs">Unch Solt &amp; Atielce</text>
<text x="1115.5" y="747.6" font-size="14.2" fill="#1c1c1c" stroke="#1c1c1c" stroke-width="0.3" textLength="72.5" lengthAdjust="spacingAndGlyphs">Much Sœin</text>
<text x="1244.5" y="747.6" font-size="14.2" fill="#1c1c1c" stroke="#1c1c1c" stroke-width="0.3" textLength="67.0" lengthAdjust="spacingAndGlyphs">Adotenees</text>
<text x="24.3" y="672.5" font-size="11.6" fill="#1c1c1c" stroke="#1c1c1c" stroke-width="0.3" textLength="22.5" lengthAdjust="spacingAndGlyphs">Sne</text>
<text x="25" y="692" font-size="11.6" fill="#1c1c1c" stroke="#1c1c1c" stroke-width="0.3" textLength="21.5" lengthAdjust="spacingAndGlyphs">Tne</text>
<text x="25.5" y="710" font-size="11.6" fill="#1c1c1c" stroke="#1c1c1c" stroke-width="0.3" textLength="20.5" lengthAdjust="spacingAndGlyphs">S0o</text>
<text x="25" y="722" font-size="10.2" fill="#1c1c1c" stroke="#1c1c1c" stroke-width="0.3" textLength="20" lengthAdjust="spacingAndGlyphs">ROO</text>
</svg></body></html>
